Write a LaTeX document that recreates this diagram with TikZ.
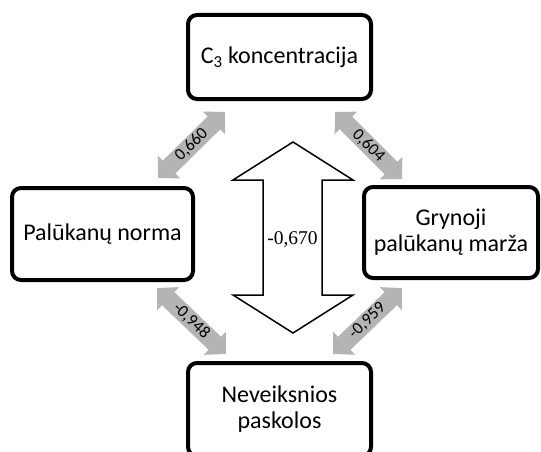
\documentclass[tikz,border=0pt]{standalone}
\usepackage{fontspec}
\setmainfont{Carlito}
\newfontfamily\serifnum{Liberation Serif}
\usetikzlibrary{arrows.meta}

\tikzset{
  factor/.style={draw=black, line width=4pt, rounded corners=9pt, fill=white,
    align=center, inner sep=0pt, font=\fontsize{24}{26}\selectfont},
  link/.style={draw={rgb,255:red,180;green,180;blue,180}, line width=18pt,
    {Triangle[length=15.5pt,width=31pt]}-{Triangle[length=15.5pt,width=31pt]}},
  linklabel/.style={sloped, inner sep=0pt, font=\fontsize{17}{19}\selectfont},
  bigarrow/.style={draw=black, line width=1.5pt, fill=white, line join=miter}
}

\begin{document}
\begin{tikzpicture}[x=1pt, y=-1pt]
  \useasboundingbox (0,0) rectangle (541,452);

  % four factors
  \node[factor, minimum width=183pt, minimum height=84pt] (conc) at (279.5,57)
    {C\textsubscript{3} koncentracija};
  \node[factor, minimum width=181pt, minimum height=92pt] (rate) at (102.5,234)
    {Palūkanų norma};
  \node[factor, minimum width=174pt, minimum height=91pt] (margin) at (451,232.5)
    {Grynoji\\palūkanų marža};
  \node[factor, minimum width=183pt, minimum height=93pt] (loans) at (279.5,409.5)
    {Neveiksnios\\paskolos};

  % end points of the correlation arrows
  \coordinate (a1) at (158,178);  \coordinate (a2) at (225,112);
  \coordinate (b1) at (335,112);  \coordinate (b2) at (402,179);
  \coordinate (c1) at (157,288);  \coordinate (c2) at (226,354);
  \coordinate (d1) at (333,354);  \coordinate (d2) at (402,288);

  \draw[link] (a1) -- node[linklabel] {0,660} (a2);
  \draw[link] (b1) -- node[linklabel] {0,604} (b2);
  \draw[link] (c1) -- node[linklabel] {-0,948} (c2);
  \draw[link] (d1) -- node[linklabel] {-0,959} (d2);

  % central double arrow between concentration and non-performing loans
  \draw[bigarrow] (293,142) -- (353,180) -- (322,180) -- (322,295) -- (353,295)
    -- (293,333) -- (233,295) -- (263,295) -- (263,180) -- (233,180) -- cycle;
  \node[font=\serifnum\fontsize{19.5}{21}\selectfont, inner sep=0pt] (corr) at (292.5,240) {-0,670};
\end{tikzpicture}
\end{document}
